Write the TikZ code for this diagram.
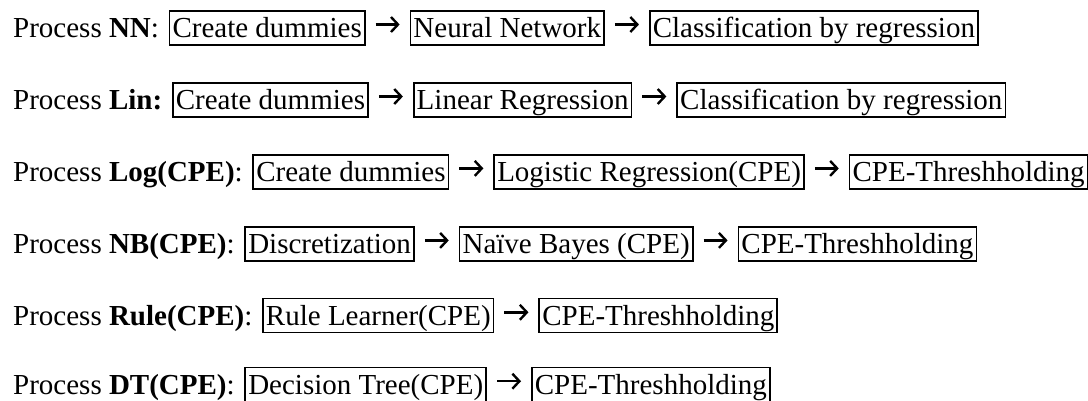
\documentclass[tikz,border=0pt]{standalone}
\usepackage{fontspec}
\setmainfont{Liberation Serif}
\usetikzlibrary{arrows.meta}
\tikzset{
  lab/.style={font=\fontsize{29pt}{35pt}\selectfont, inner sep=0pt, anchor=base west},
  stage/.style={draw, line width=1.7pt, font=\fontsize{29pt}{35pt}\selectfont,
    text height=25pt, text depth=6pt, inner xsep=3pt, inner ysep=1.5pt, anchor=base west},
  conn/.style={line width=2.4pt, -{Straight Barb[length=7pt,width=15pt]},
    shorten <=10pt, shorten >=10pt},
}
\begin{document}
\begin{tikzpicture}
\useasboundingbox (0,0) rectangle (1088pt,-400pt);
\clip (0,0) rectangle (1088pt,-400pt);
% Row 1
\node[lab] (l1) at (13pt,-37.3pt) {Process \textbf{NN}:};
\node[stage] (a1) at ([xshift=9.5pt]l1.base east) {Create dummies};
\node[stage] (a2) at ([xshift=44pt]a1.base east) {Neural Network};
\node[stage] (a3) at ([xshift=44pt]a2.base east) {Classification by regression};
\draw[conn] ([yshift=3.3pt]a1.east) -- ([yshift=3.3pt]a2.west);
\draw[conn] ([yshift=3.3pt]a2.east) -- ([yshift=3.3pt]a3.west);
% Row 2
\node[lab] (l2) at (13pt,-109.3pt) {Process \textbf{Lin:}};
\node[stage] (b1) at ([xshift=9.5pt]l2.base east) {Create dummies};
\node[stage] (b2) at ([xshift=44pt]b1.base east) {Linear Regression};
\node[stage] (b3) at ([xshift=44pt]b2.base east) {Classification by regression};
\draw[conn] ([yshift=3.3pt]b1.east) -- ([yshift=3.3pt]b2.west);
\draw[conn] ([yshift=3.3pt]b2.east) -- ([yshift=3.3pt]b3.west);
% Row 3
\node[lab] (l3) at (13pt,-181.2pt) {Process \textbf{Log(CPE)}:};
\node[stage] (c1) at ([xshift=9.5pt]l3.base east) {Create dummies};
\node[stage] (c2) at ([xshift=44pt]c1.base east) {Logistic Regression(CPE)};
\node[stage] (c3) at ([xshift=44pt]c2.base east) {CPE-Threshholding};
\draw[conn] ([yshift=3.3pt]c1.east) -- ([yshift=3.3pt]c2.west);
\draw[conn] ([yshift=3.3pt]c2.east) -- ([yshift=3.3pt]c3.west);
% Row 4
\node[lab] (l4) at (13pt,-253.2pt) {Process \textbf{NB(CPE)}:};
\node[stage] (d1) at ([xshift=9.5pt]l4.base east) {Discretization};
\node[stage] (d2) at ([xshift=44pt]d1.base east) {Naïve Bayes (CPE)};
\node[stage] (d3) at ([xshift=44pt]d2.base east) {CPE-Threshholding};
\draw[conn] ([yshift=3.3pt]d1.east) -- ([yshift=3.3pt]d2.west);
\draw[conn] ([yshift=3.3pt]d2.east) -- ([yshift=3.3pt]d3.west);
% Row 5
\node[lab] (l5) at (13pt,-325.1pt) {Process \textbf{Rule(CPE)}:};
\node[stage] (e1) at ([xshift=9.5pt]l5.base east) {Rule Learner(CPE)};
\node[stage] (e2) at ([xshift=44pt]e1.base east) {CPE-Threshholding};
\draw[conn] ([yshift=3.3pt]e1.east) -- ([yshift=3.3pt]e2.west);
% Row 6
\node[lab] (l6) at (13pt,-394pt) {Process \textbf{DT(CPE)}:};
\node[stage] (f1) at ([xshift=9.5pt]l6.base east) {Decision Tree(CPE)};
\node[stage] (f2) at ([xshift=44pt]f1.base east) {CPE-Threshholding};
\draw[conn] ([yshift=3.3pt]f1.east) -- ([yshift=3.3pt]f2.west);
\end{tikzpicture}
\end{document}
